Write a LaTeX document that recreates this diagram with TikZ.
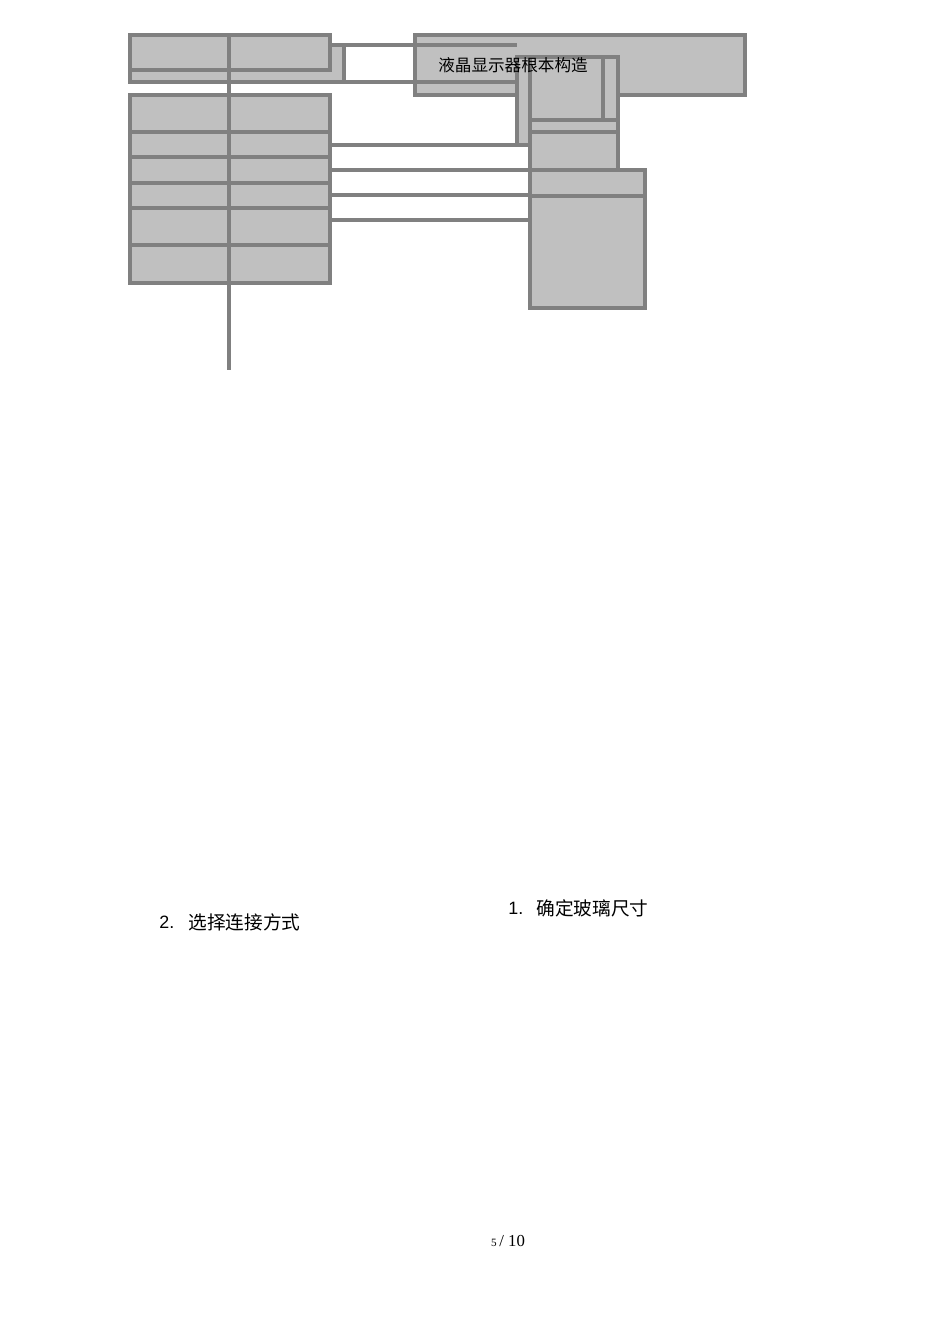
\documentclass[tikz,border=0pt]{standalone}
\usepackage{fontspec}
\setmainfont{Liberation Serif}
\newfontfamily\cjk{Noto Sans CJK SC}
\newfontfamily\lsans{Liberation Sans}
\definecolor{boxfill}{HTML}{C0C0C0}
\definecolor{boxline}{HTML}{808080}
\tikzset{
  gbox/.style={fill=boxfill, draw=boxline, line width=2.6pt},
  gline/.style={draw=boxline, line width=2.6pt},
  thinline/.style={draw=boxline, line width=1.9pt},
  lbl/.style={inner sep=0pt, anchor=west}
}
\begin{document}
\begin{tikzpicture}[x=0.6263pt, y=-0.6263pt]
\useasboundingbox (0,0) rectangle (950,1344);
% big right-top rectangle
\draw[gbox] (415,35) rectangle (745,95);
% upper-left group
\draw[gbox] (130,45) rectangle (344,82);
\draw[gbox] (130,35) rectangle (229,70);
\draw[gbox] (229,35) rectangle (330,70);
% lower-left table
\draw[gbox] (130,95) rectangle (330,283);
\foreach \yy in {157,183,208,245} \draw[gline] (130,\yy) -- (330,\yy);
\draw[thinline] (130,132) -- (330,132);
% long vertical line
\draw[gline] (229,35) -- (229,370);
% connecting lines
\draw[gline] (330,45) -- (517,45);
\draw[gline] (130,82) -- (530,82);
\foreach \yy in {145,170,195,220} \draw[gline] (330,\yy) -- (530,\yy);
% right structures
\draw[gbox] (517,57) rectangle (530,145);
\draw[gbox] (530,57) rectangle (618,170);
\draw[gline] (603,57) -- (603,120);
\draw[gline] (530,120) -- (618,120);
\draw[thinline] (530,132) -- (618,132);
\draw[gbox] (530,170) rectangle (645,308);
\draw[gline] (530,196) -- (645,196);
% texts
\node[lbl] (title) at (438,65) {\cjk\fontsize{10.4pt}{12pt}\selectfont 液晶显示器根本构造};
\node[lbl] (n2) at (159,922) {\lsans\fontsize{11.2pt}{13pt}\selectfont 2.};
\node[lbl] (t2) at (188,922) {\cjk\fontsize{11.7pt}{13pt}\selectfont 选择连接方式};
\node[lbl] (n1) at (508,908) {\lsans\fontsize{11.2pt}{13pt}\selectfont 1.};
\node[lbl] (t1) at (536,908) {\cjk\fontsize{11.7pt}{13pt}\selectfont 确定玻璃尺寸};
\node[inner sep=0pt, anchor=base east] (pg5) at (497,1246) {\fontsize{7pt}{8pt}\selectfont 5};
\node[inner sep=0pt, anchor=base west] (pg) at (499,1246) {\fontsize{10.5pt}{12pt}\selectfont / 10};
\end{tikzpicture}
\end{document}
